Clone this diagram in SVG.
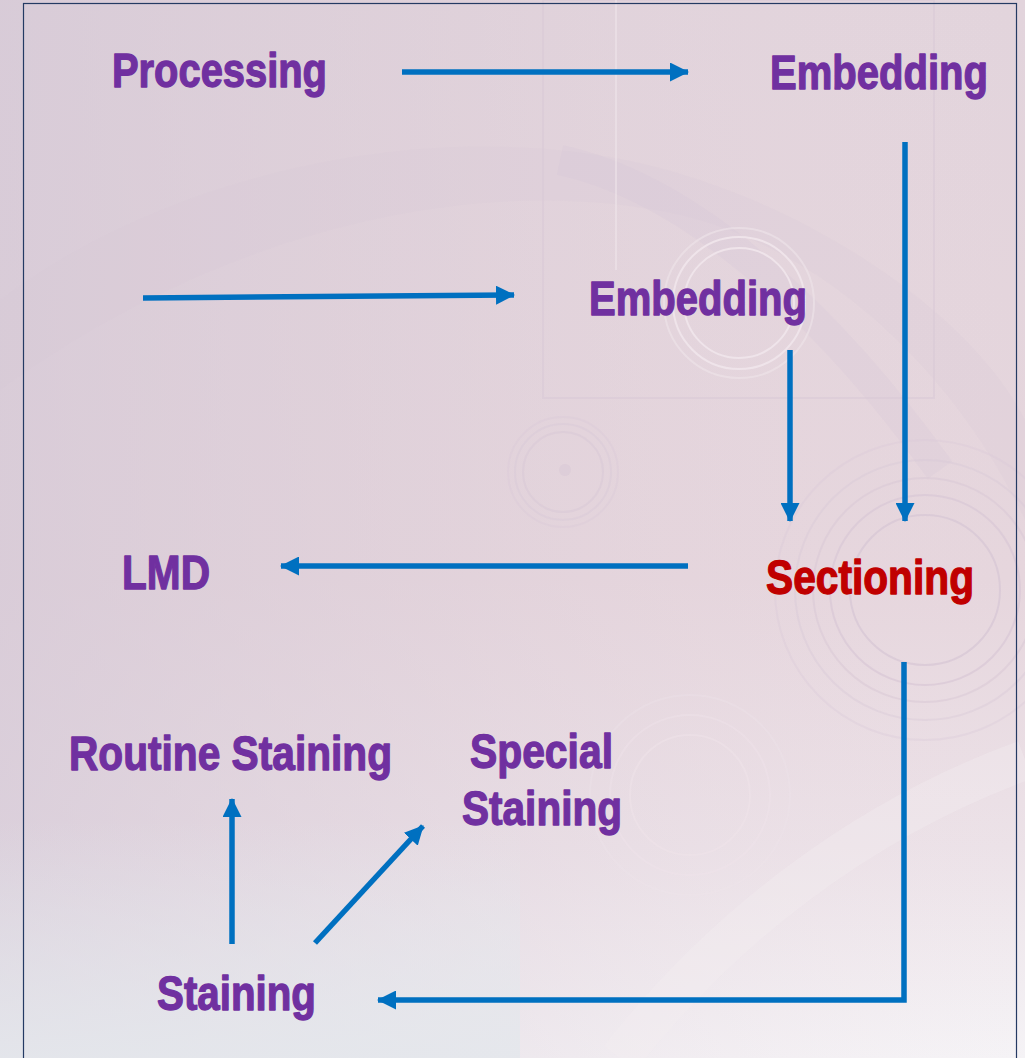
<svg xmlns="http://www.w3.org/2000/svg" width="1025" height="1058" viewBox="0 0 1025 1058">
<defs>
<linearGradient id="bgv" x1="0" y1="0" x2="0" y2="1">
<stop offset="0" stop-color="#e2d4dc"/>
<stop offset="0.55" stop-color="#e6d6dd"/>
<stop offset="0.8" stop-color="#ece2e8"/>
<stop offset="1" stop-color="#f5f3f6"/>
</linearGradient>
<linearGradient id="bgh" x1="0" y1="0" x2="1" y2="0">
<stop offset="0" stop-color="#d4c8d6" stop-opacity="0.7"/>
<stop offset="0.45" stop-color="#d8cad6" stop-opacity="0.3"/>
<stop offset="1" stop-color="#ecdbe2" stop-opacity="0"/>
</linearGradient>
<linearGradient id="bgb" x1="0" y1="0" x2="0" y2="1">
<stop offset="0" stop-color="#e4e7ec" stop-opacity="0"/>
<stop offset="1" stop-color="#e4e7ec" stop-opacity="0.9"/>
</linearGradient>
<marker id="ah" viewBox="0 0 19 19" refX="18" refY="9.5" markerWidth="19" markerHeight="19" markerUnits="userSpaceOnUse" orient="auto">
<path d="M0,0 L19,9.5 L0,19 Z" fill="#0070c0"/>
</marker>
</defs>
<style>
.lbl{font-family:"Liberation Sans",Arial,sans-serif;font-weight:bold;font-size:48px;fill:#7030a0;stroke:#7030a0;stroke-width:1.3;stroke-linejoin:round}
.red{fill:#c00000;stroke:#c00000}
.conn{fill:none;stroke:#0070c0;stroke-width:5.5}
.deco{fill:none;stroke:#d8c8d6;stroke-width:2}
.decol{fill:none;stroke:#efe4ea;stroke-width:2}
</style>
<g id="background">
<rect x="0" y="0" width="1025" height="1058" fill="url(#bgv)"/>
<rect x="0" y="0" width="1025" height="1058" fill="url(#bgh)"/>
<rect x="0" y="820" width="520" height="238" fill="url(#bgb)"/>
<path d="M0,300 C200,150 500,110 700,180 C850,230 980,330 1025,420 L1025,520 C960,380 830,250 680,215 C480,170 220,230 0,390 Z" fill="#d6c6d6" opacity="0.2"/>
<path d="M560,160 C700,190 840,330 940,470" fill="none" stroke="#d4c3d5" stroke-width="30" opacity="0.2"/>
<path d="M620,1058 C720,930 860,820 1025,760" fill="none" stroke="#f4eef2" stroke-width="40" opacity="0.35"/>
<rect x="543" y="0" width="391" height="398" class="deco" opacity="0.5"/>
<line x1="616" y1="0" x2="616" y2="270" class="decol" opacity="0.6"/>
<circle cx="739" cy="303" r="55" class="decol"/>
<circle cx="739" cy="303" r="66" class="decol"/>
<circle cx="739" cy="303" r="75" class="decol" opacity="0.6"/>
<circle cx="563" cy="472" r="40" class="deco" opacity="0.5"/>
<circle cx="563" cy="472" r="48" class="deco" opacity="0.4"/>
<circle cx="563" cy="472" r="55" class="deco" opacity="0.3"/>
<circle cx="565" cy="470" r="6" fill="#d8c8d6" opacity="0.5"/>
<circle cx="925" cy="590" r="75" class="deco" opacity="0.8"/>
<circle cx="925" cy="590" r="95" class="deco" opacity="0.7"/>
<circle cx="925" cy="590" r="112" class="deco" opacity="0.55"/>
<circle cx="925" cy="590" r="130" class="deco" opacity="0.4"/>
<circle cx="925" cy="590" r="150" class="deco" opacity="0.3"/>
<circle cx="690" cy="795" r="60" class="decol" opacity="0.5"/>
<circle cx="690" cy="795" r="80" class="decol" opacity="0.4"/>
<circle cx="690" cy="795" r="100" class="decol" opacity="0.3"/>
</g>
<rect id="frame" x="23.5" y="3.5" width="993" height="1070" fill="none" stroke="#243a63" stroke-width="1.2"/>
<g id="connectors">
<line class="conn" x1="402" y1="72" x2="688" y2="72" marker-end="url(#ah)"/>
<line class="conn" x1="905" y1="142" x2="905" y2="521" marker-end="url(#ah)"/>
<line class="conn" x1="143" y1="298" x2="514" y2="295" marker-end="url(#ah)"/>
<line class="conn" x1="790" y1="350" x2="790" y2="521" marker-end="url(#ah)"/>
<line class="conn" x1="688" y1="566" x2="281" y2="566" marker-end="url(#ah)"/>
<polyline class="conn" points="904,662 904,1000 378,1000" marker-end="url(#ah)"/>
<line class="conn" x1="232" y1="944" x2="232" y2="799" marker-end="url(#ah)"/>
<line class="conn" x1="315" y1="943" x2="423" y2="826" marker-end="url(#ah)"/>
</g>
<g id="processing"><text class="lbl" transform="scale(0.84,1)" x="133.33" y="87" textLength="255.95" lengthAdjust="spacingAndGlyphs">Processing</text></g>
<g id="embedding1"><text class="lbl" transform="scale(0.84,1)" x="916.67" y="89" textLength="259.52" lengthAdjust="spacingAndGlyphs">Embedding</text></g>
<g id="embedding2"><text class="lbl" transform="scale(0.84,1)" x="701.19" y="315" textLength="259.52" lengthAdjust="spacingAndGlyphs">Embedding</text></g>
<g id="sectioning"><text class="lbl red" transform="scale(0.84,1)" x="911.9" y="594" textLength="247.62" lengthAdjust="spacingAndGlyphs">Sectioning</text></g>
<g id="lmd"><text class="lbl" transform="scale(0.84,1)" x="145.24" y="589" textLength="104.76" lengthAdjust="spacingAndGlyphs">LMD</text></g>
<g id="routine-staining"><text class="lbl" transform="scale(0.84,1)" x="82.14" y="770" textLength="384.52" lengthAdjust="spacingAndGlyphs">Routine Staining</text></g>
<g id="special-staining"><text class="lbl" transform="scale(0.84,1)" x="559.52" y="768" textLength="170.24" lengthAdjust="spacingAndGlyphs">Special</text><text class="lbl" transform="scale(0.84,1)" x="550" y="825" textLength="190.48" lengthAdjust="spacingAndGlyphs">Staining</text></g>
<g id="staining"><text class="lbl" transform="scale(0.84,1)" x="186.9" y="1010" textLength="189.29" lengthAdjust="spacingAndGlyphs">Staining</text></g>
</svg>
